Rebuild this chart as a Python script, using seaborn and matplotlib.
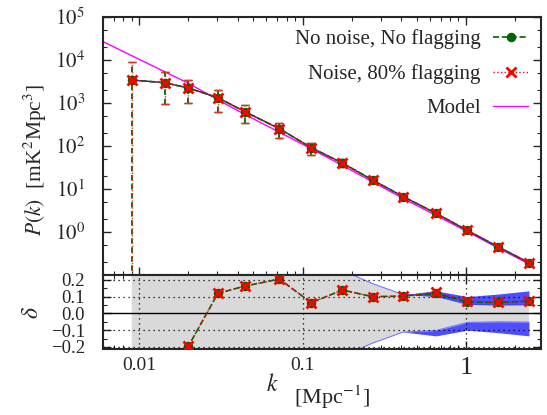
import numpy as np
import pandas as pd
import matplotlib
matplotlib.use("Agg")
import matplotlib.pyplot as plt
import seaborn as sns
from matplotlib.lines import Line2D
from matplotlib.ticker import LogLocator, NullFormatter, MultipleLocator

# ---------------- data ----------------
k = [0.0090, 0.0143, 0.0200, 0.0303, 0.0447, 0.0721, 0.113, 0.175,
     0.268, 0.414, 0.656, 1.02, 1.58, 2.43]
P_clean = [3430, 2970, 2230, 1330, 618, 253, 91.4, 40.3, 16.2, 6.63,
           2.72, 1.09, 0.448, 0.194]
P_noise = [3430, 2970, 2230, 1330, 618, 253, 91.4, 40.3, 16.2, 6.63,
           2.74, 1.10, 0.448, 0.195]
P_hi = [8850, 5350, 3430, 2000, 914, 349, 116, 49, 18.7, 7.5, 2.9, 1.15, 0.47, 0.204]
P_lo = [0.001, 948, 1000, 628, 337, 153, 60.7, 33, 14.0, 5.85, 2.55, 1.03, 0.427, 0.184]

model_k = [0.006, 0.0090, 0.0143, 0.0200, 0.0303, 0.0447, 0.0721, 0.113,
           0.175, 0.268, 0.414, 0.656, 1.02, 1.58, 2.43]
model_P = [26700, 12600, 5350, 2870, 1190, 531, 210, 86, 35.4, 14.7,
           6.0, 2.43, 1.02, 0.421, 0.181]

delta_clean = [-0.73, -0.45, -0.195, 0.119, 0.163, 0.204, 0.063, 0.139,
               0.099, 0.103, 0.119, 0.068, 0.065, 0.073]
delta_noise = [-0.73, -0.45, -0.195, 0.119, 0.163, 0.204, 0.063, 0.139,
               0.099, 0.103, 0.129, 0.074, 0.065, 0.075]
sigma_inner = [1.5, 1.2, 0.9, 0.7, 0.55, 0.45, 0.35, 0.256, 0.177, 0.111,
               0.102, 0.054, 0.050, 0.052]
sigma_outer = [1.5, 1.2, 0.9, 0.7, 0.55, 0.45, 0.35, 0.256, 0.177, 0.111,
               0.134, 0.100, 0.115, 0.134]

labels = ["No noise, No flagging", "Noise, 80% flagging", "Model"]
top_yticks = [1e0, 1e1, 1e2, 1e3, 1e4, 1e5]
top_yticklabels = [r"$10^{0}$", r"$10^{1}$", r"$10^{2}$", r"$10^{3}$", r"$10^{4}$", r"$10^{5}$"]
bot_yticks = [-0.2, -0.1, 0.0, 0.1, 0.2]
bot_yticklabels = ["\u22120.2", "\u22120.1", "0.0", "0.1", "0.2"]
xticks = [0.01, 0.1, 1]
xticklabels = ["0.01", "0.1", "1"]

# ---------------- style ----------------
sns.set_theme(style="ticks")
plt.rcParams["font.family"] = ["Liberation Serif", "DejaVu Serif"]
plt.rcParams["mathtext.fontset"] = "stix"
plt.rcParams["axes.linewidth"] = 1.5

GREEN = "#006400"
RED = "#ff0000"
MAG = "#ff00ff"
BLUE = "#1a1acc"

df = pd.DataFrame({"k": k, "clean": P_clean, "noise": P_noise,
                   "dclean": delta_clean, "dnoise": delta_noise,
                   "s1": sigma_inner, "s2": sigma_outer})
dfm = pd.DataFrame({"k": model_k, "P": model_P})

fig = plt.figure(figsize=(5.47, 4.15), dpi=100)
ax1 = fig.add_axes([0.1883, 0.3373, 0.8007, 0.6217])
ax2 = fig.add_axes([0.1883, 0.159, 0.8007, 0.1783])

green_kw = dict(color=GREEN, lw=1.2, linestyle="--", marker="o", markersize=6,
                markeredgewidth=0.8, markeredgecolor=GREEN, markerfacecolor=GREEN)
red_kw = dict(color=RED, lw=1.0, linestyle=":", marker="x", markersize=7,
              markeredgewidth=2.0, markeredgecolor=RED)

# ---------------- top panel ----------------
ax1.set_xscale("log")
ax1.set_yscale("log")
sns.lineplot(data=dfm, x="k", y="P", ax=ax1, color=MAG, lw=1.0, zorder=2)
sns.lineplot(data=df, x="k", y="clean", ax=ax1, color=BLUE, lw=1.0, zorder=2.5)

P_clean_a = np.array(P_clean)
eb1 = ax1.errorbar(k, P_clean, yerr=[P_clean_a - np.array(P_lo), np.array(P_hi) - P_clean_a],
                   fmt="none", ecolor=GREEN, elinewidth=1.3, capsize=3, capthick=1.0, zorder=3)
eb1[2][0].set_linestyle((0, (3, 2)))
P_noise_a = np.array(P_noise)
eb2 = ax1.errorbar(k, P_noise, yerr=[P_noise_a - np.array(P_lo), np.array(P_hi) - P_noise_a],
                   fmt="none", ecolor="#e03020", elinewidth=1.0, capsize=3, capthick=1.0, zorder=3.1)
eb2[2][0].set_linestyle((0, (1, 1.5)))

sns.lineplot(data=df, x="k", y="clean", ax=ax1, zorder=4, **green_kw)
sns.lineplot(data=df, x="k", y="noise", ax=ax1, zorder=5, **red_kw)

ax1.set_xlim(0.006, 2.88)
ax1.set_ylim(0.1, 1e5)
ax1.set_xlabel("")
ax1.set_ylabel("")
ax1.set_yticks(top_yticks)
ax1.set_yticklabels(top_yticklabels)
ax1.yaxis.set_minor_locator(LogLocator(base=10, subs=(2.0, 5.0), numticks=20))
ax1.yaxis.set_minor_formatter(NullFormatter())
ax1.set_xticks(xticks)
ax1.xaxis.set_minor_locator(LogLocator(base=10, subs=np.arange(2, 10), numticks=20))
ax1.tick_params(axis="both", which="both", direction="in", top=True, right=True,
                labelbottom=False)
ax1.tick_params(axis="both", which="major", length=6, width=1.0)
ax1.tick_params(axis="both", which="minor", length=3, width=0.8)
ax1.tick_params(axis="y", which="major", labelsize=15, pad=13)

handles = [Line2D([], [], **green_kw), Line2D([], [], **red_kw),
           Line2D([], [], color=MAG, lw=1.0)]
ax1.legend(handles, labels, loc="upper right", frameon=False, markerfirst=False,
           fontsize=15, handlelength=1.7, handletextpad=0.6, labelspacing=0.7,
           borderaxespad=0.3, borderpad=0.3)

# ---------------- bottom panel ----------------
ax2.set_xscale("log")
ax2.fill_between(df["k"], -df["s1"], df["s1"], color="#d9d9d9", lw=0, zorder=1)
ax2.plot(df["k"], df["s1"], color="#7777ff", lw=0.8, zorder=1.5)
ax2.plot(df["k"], -df["s1"], color="#7777ff", lw=0.8, zorder=1.5)
ax2.fill_between(df["k"], df["s1"], df["s2"], color="#3b3bff", alpha=0.9, lw=0, zorder=1.6)
ax2.fill_between(df["k"], -df["s2"], -df["s1"], color="#3b3bff", alpha=0.9, lw=0, zorder=1.6)

for yv in [-0.2, -0.1, 0.1, 0.2]:
    ax2.axhline(yv, color="black", lw=0.9, ls=(0, (1, 3)), zorder=2)
for xv in xticks:
    ax2.axvline(xv, color="black", lw=0.9, ls=(0, (1, 3)), zorder=2)
ax2.axhline(0.0, color="black", lw=1.0, zorder=2)

sns.lineplot(data=df, x="k", y="dclean", ax=ax2, zorder=4, **green_kw)
sns.lineplot(data=df, x="k", y="dnoise", ax=ax2, zorder=5, **red_kw)

ax2.set_xlim(0.006, 2.88)
ax2.set_ylim(-0.212, 0.228)
ax2.set_xlabel("")
ax2.set_ylabel("")
ax2.set_yticks(bot_yticks)
ax2.set_yticklabels(bot_yticklabels)
ax2.yaxis.set_minor_locator(MultipleLocator(0.05))
ax2.set_xticks(xticks)
ax2.set_xticklabels(xticklabels)
ax2.xaxis.set_minor_locator(LogLocator(base=10, subs=np.arange(2, 10), numticks=20))
ax2.xaxis.set_minor_formatter(NullFormatter())
ax2.tick_params(axis="both", which="both", direction="in", top=True, right=True)
ax2.tick_params(axis="both", which="major", length=6, width=1.0)
ax2.tick_params(axis="both", which="minor", length=3, width=0.8)
ax2.tick_params(axis="y", which="major", labelsize=13.5, pad=13)
ax2.tick_params(axis="x", which="major", labelsize=14, pad=6)
for lab in ax2.get_xticklabels():
    if lab.get_text() == "1":
        lab.set_fontsize(19)

# ---------------- axis titles ----------------
fig.text(35 / 547, 1 - 160 / 415, r"$P(k)$  [mK$^{2}$Mpc$^{3}$]", rotation=90,
         ha="center", va="center", fontsize=15.5)
fig.text(33 / 547, 1 - 313 / 415, r"$\delta$", rotation=90,
         ha="center", va="center", fontsize=17)
fig.text(272 / 547, 1 - 385 / 415, r"$k$", ha="center", va="center", fontsize=17)
fig.text(332 / 547, 1 - 397 / 415, r"[Mpc$^{-1}$]", ha="center", va="center", fontsize=16)

fig.savefig("out.png", dpi=100)
